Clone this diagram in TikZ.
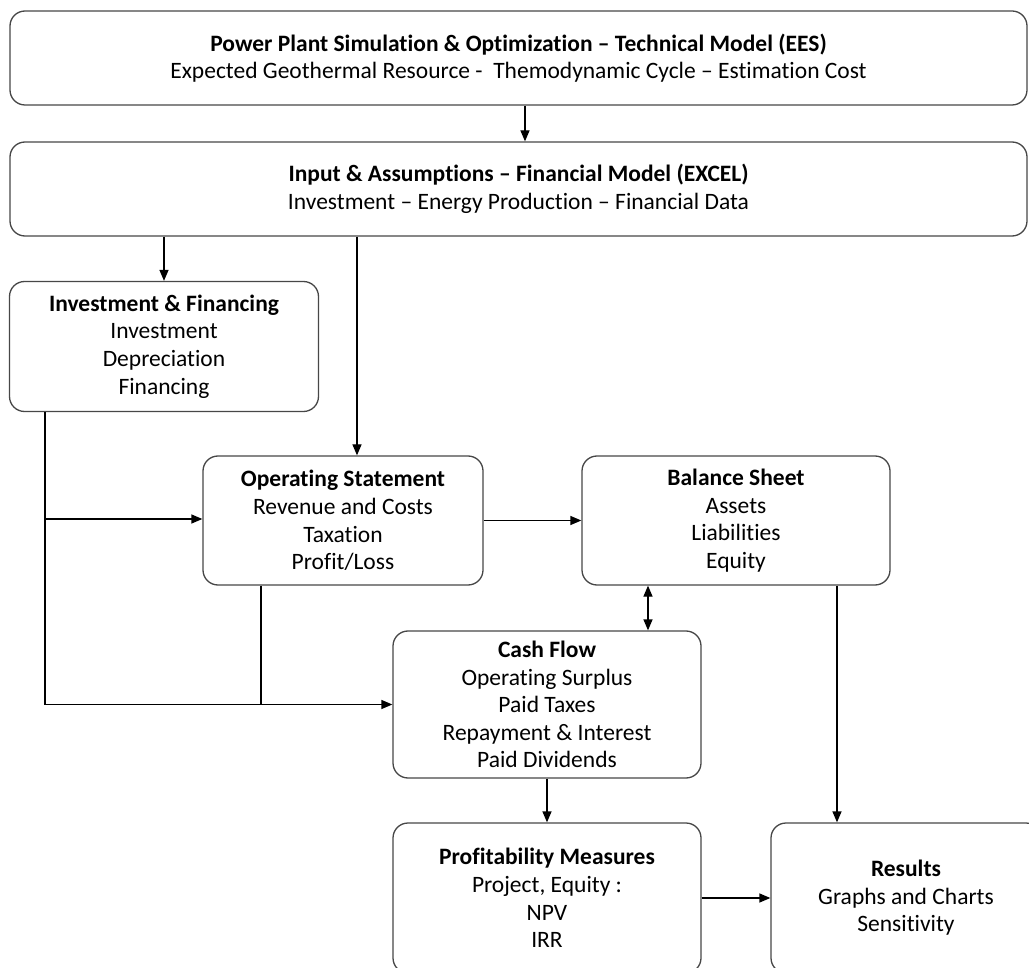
\documentclass[tikz,border=0pt]{standalone}
\usepackage{fontspec}
\setmainfont{Carlito}[Ligatures=NoCommon]
\usetikzlibrary{arrows.meta}
\begin{document}
\begin{tikzpicture}[x=1pt,y=-1pt,
  box/.style={draw=black!72, line width=1.3pt, rounded corners=15pt, fill=white,
    align=center, inner sep=0pt, font=\fontsize{23.5}{27.6}\selectfont},
  arr/.style={draw=black, line width=1.3pt, -{Triangle[length=11pt,width=9pt]}},
  arrb/.style={draw=black, line width=1.3pt, {Triangle[length=11pt,width=9pt]}-{Triangle[length=11pt,width=9pt]}},
  ln/.style={draw=black, line width=1.3pt}]
\useasboundingbox (0,0) rectangle (1029,968);
\clip (0,0) rectangle (1029,968);
\node[box, minimum width=1017pt, minimum height=94pt] (top) at (518.5,58)
  {\textbf{Power Plant Simulation \& Optimization – Technical Model (EES)}\\Expected Geothermal Resource -\ \ Themodynamic Cycle – Estimation Cost};
\node[box, minimum width=1017pt, minimum height=94pt] (fin) at (518.5,189)
  {\textbf{Input \& Assumptions – Financial Model (EXCEL)}\\Investment – Energy Production – Financial Data};
\node[box, minimum width=309pt, minimum height=130pt] (inv) at (164,346.5)
  {\textbf{Investment \& Financing}\\Investment\\Depreciation\\Financing};
\node[box, minimum width=280pt, minimum height=129pt] (os) at (343,520.5)
  {\textbf{Operating Statement}\\Revenue and Costs\\Taxation\\Profit/Loss};
\node[box, minimum width=308pt, minimum height=129pt] (bs) at (736,520.5)
  {\textbf{Balance Sheet}\\Assets\\Liabilities\\Equity};
\node[box, minimum width=308pt, minimum height=147pt] (cf) at (547,704.5)
  {\textbf{Cash Flow}\\Operating Surplus\\Paid Taxes\\Repayment \& Interest\\Paid Dividends};
\node[box, minimum width=308pt, minimum height=150pt] (prof) at (547,898)
  {\textbf{Profitability Measures}\\Project, Equity :\\NPV\\IRR};
\node[box, minimum width=270pt, minimum height=150pt] (res) at (906,898)
  {\textbf{Results}\\Graphs and Charts\\Sensitivity};
\draw[arr] (525,0 |- top.south) -- (525,0 |- fin.north);
\draw[arr] (164,0 |- fin.south) -- (inv.north);
\draw[arr] (357,0 |- fin.south) -- (357,0 |- os.north);
\draw[arr] (os.east) -- (bs.west);
\coordinate (j1) at (45,519);
\draw[ln] (45,0 |- inv.south) -- (45,0 |- cf.west);
\draw[arr] (j1) -- (j1 -| os.west);
\draw[arr] (45,0 |- cf.west) -- (cf.west);
\draw[ln] (261,0 |- os.south) -- (261,0 |- cf.west);
\draw[arrb] (648,0 |- bs.south) -- (648,0 |- cf.north);
\draw[arr] (cf.south) -- (prof.north);
\draw[arr] (837,0 |- bs.south) -- (837,0 |- res.north);
\draw[arr] (prof.east) -- (res.west);
\end{tikzpicture}
\end{document}
